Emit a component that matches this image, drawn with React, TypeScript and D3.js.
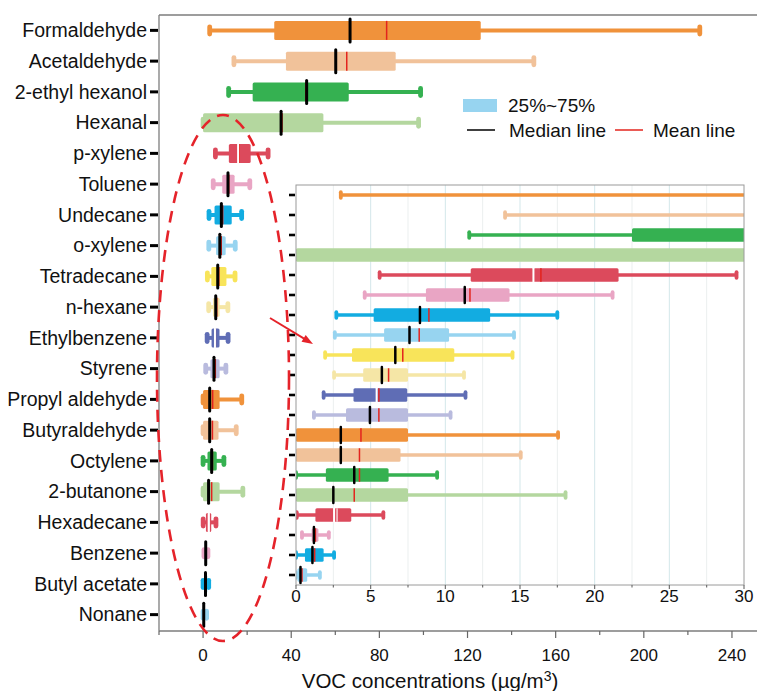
import React from "react";
import * as d3 from "d3";

// VOC box statistics (µg/m3)
const compounds = [
  "Formaldehyde", "Acetaldehyde", "2-ethyl hexanol", "Hexanal", "p-xylene",
  "Toluene", "Undecane", "o-xylene", "Tetradecane", "n-hexane",
  "Ethylbenzene", "Styrene", "Propyl aldehyde", "Butyraldehyde", "Octylene",
  "2-butanone", "Hexadecane", "Benzene", "Butyl acetate", "Nonane",
];
const minValues = [3, 14, 11.6, 0, 5.6, 4.6, 2.7, 2.6, 1.95, 2.55, 1.85, 1.2, 0, 0, 0, 0, 0.05, 0.4, 0, 0];
const q1Values = [32.3, 37.6, 22.5, 0, 11.7, 8.7, 5.2, 5.9, 3.75, 4.5, 3.85, 3.35, 0, 0, 2.0, 0, 1.3, 1.05, 0.6, 0.1];
const medianValues = [66.7, 60.2, 47.0, 35.4, 15.9, 11.3, 8.3, 7.6, 6.65, 5.75, 5.4, 4.95, 3.0, 3.0, 3.9, 2.5, 2.55, 1.2, 1.1, 0.3];
const meanValues = [83.3, 65.2, 46.6, 35.8, 16.4, 11.65, 8.9, 8.25, 7.15, 6.2, 5.55, 5.55, 4.35, 4.25, 4.25, 3.9, 2.75, 1.3, 1.25, 0.4];
const q3Values = [126, 87.4, 66.1, 54.6, 21.6, 14.3, 13.0, 10.25, 10.6, 7.5, 7.45, 7.5, 7.5, 7.0, 6.2, 7.5, 3.7, 1.5, 1.85, 0.75];
const maxValues = [225.4, 150.1, 98.7, 97.8, 29.5, 21.2, 17.5, 14.6, 14.5, 11.25, 11.35, 10.35, 17.55, 15.05, 9.45, 18.05, 5.85, 2.2, 2.55, 1.6];

const mainTicks = [0, 40, 80, 120, 160, 200, 240];
const mainMinorTicks = [-20, 20, 60, 100, 140, 180, 220];
const insetTicks = [0, 5, 10, 15, 20, 25, 30];
const insetMinorTicks = [2.5, 7.5, 12.5, 17.5, 22.5, 27.5];

const palette = [
  "#F0923B", "#F1C29A", "#35B151", "#B4D79F", "#DC4A5C",
  "#E9A5C4", "#12ACE1", "#97D4F0", "#F8E45A", "#F5E6A6",
  "#5F6DB5", "#B9BBDE", "#F0923B", "#F1C29A", "#35B151",
  "#B4D79F", "#DC4A5C", "#E9A5C4", "#12ACE1", "#97D4F0",
];
const whiteMedian = ["p-xylene", "Ethylbenzene", "Hexadecane"];

const FONT = "'Liberation Sans', Arial, Helvetica, sans-serif";
const MEAN_RED = "#E3241E";

const mainX = d3.scaleLinear().domain([-20, 250]).range([159, 754]);
const mainY = d3.scaleBand().domain(compounds).range([15, 630]);
const insetX = d3.scaleLinear().domain([0, 30]).range([296, 744]);
const insetY = d3.scaleBand().domain(compounds).range([185, 585]);

type Dims = { box: number; whisker: number; capW: number; capH: number; medW: number; medH: number };

function Boxes({ x, y, d, clip }: { x: d3.ScaleLinear<number, number>; y: d3.ScaleBand<string>; d: Dims; clip?: string }) {
  return (
    <g clipPath={clip}>
      {compounds.map((c, i) => {
        const cy = (y(c) as number) + y.bandwidth() / 2;
        const col = palette[i];
        const white = whiteMedian.includes(c);
        return (
          <g key={c}>
            <line x1={x(minValues[i])} x2={x(maxValues[i])} y1={cy} y2={cy} stroke={col} strokeWidth={d.whisker} />
            {[minValues[i], maxValues[i]].map((v, k) => (
              <rect key={k} x={x(v) - d.capW / 2} y={cy - d.capH / 2} width={d.capW} height={d.capH} rx={d.capW / 2} fill={col} />
            ))}
            <rect x={x(q1Values[i])} y={cy - d.box / 2} width={x(q3Values[i]) - x(q1Values[i])} height={d.box} rx={1.5} fill={col} />
            <line x1={x(meanValues[i])} x2={x(meanValues[i])} y1={cy - d.box / 2} y2={cy + d.box / 2}
              stroke={c === "Hexadecane" ? "#F6D0D4" : MEAN_RED} strokeWidth={1.5} />
            <line x1={x(medianValues[i])} x2={x(medianValues[i])}
              y1={cy - (white ? d.box : d.medH) / 2} y2={cy + (white ? d.box : d.medH) / 2}
              stroke={white ? "#ffffff" : "#000"} strokeWidth={white ? 2 : d.medW} strokeLinecap="round" />
          </g>
        );
      })}
    </g>
  );
}

export default function App() {
  const [ix0, ix1] = insetX.range();
  const [iy0, iy1] = insetY.range();
  // arrow pointing into the inset
  const a0 = [270, 318], a1 = [313, 344];
  const ang = Math.atan2(a1[1] - a0[1], a1[0] - a0[0]);
  const head = (len: number, w: number) => {
    const bx = a1[0] - len * Math.cos(ang), by = a1[1] - len * Math.sin(ang);
    const px = -Math.sin(ang) * w, py = Math.cos(ang) * w;
    return `${a1[0]},${a1[1]} ${bx + px},${by + py} ${bx - px},${by - py}`;
  };

  return (
    <svg width={757} height={691} style={{ position: "absolute", left: 0, top: 0, background: "#fff" }} fontFamily={FONT}>
      {/* main frame */}
      <line x1={159} x2={757} y1={15} y2={15} stroke="#7d7d7d" strokeWidth={1.3} />
      <line x1={159} x2={159} y1={15} y2={631} stroke="#7d7d7d" strokeWidth={1.3} />
      <line x1={159} x2={757} y1={631} y2={631} stroke="#7d7d7d" strokeWidth={1.3} />
      {mainTicks.map((t) => (
        <g key={t}>
          <line x1={mainX(t)} x2={mainX(t)} y1={631} y2={638} stroke="#666" strokeWidth={1.2} />
          <text x={mainX(t)} y={661} fontSize={17} textAnchor="middle" fill="#111">{t}</text>
        </g>
      ))}
      {mainMinorTicks.map((t) => (
        <line key={t} x1={mainX(t)} x2={mainX(t)} y1={631} y2={635} stroke="#666" strokeWidth={1.2} />
      ))}
      {compounds.map((c) => {
        const cy = (mainY(c) as number) + mainY.bandwidth() / 2;
        return (
          <g key={c}>
            <line x1={150} x2={158} y1={cy} y2={cy} stroke="#000" strokeWidth={3} />
            <text x={147} y={cy + 6.8} fontSize={19.5} textAnchor="end" fill="#111">{c}</text>
          </g>
        );
      })}
      <text x={430} y={688} fontSize={20.5} textAnchor="middle" fill="#111">
        VOC concentrations (µg/m<tspan dy={-7} fontSize={14}>3</tspan><tspan dy={7}>)</tspan>
      </text>

      <Boxes x={mainX} y={mainY} d={{ box: 19, whisker: 4, capW: 4.8, capH: 12, medW: 3, medH: 23 }} />

      {/* legend */}
      <rect x={463} y={99} width={34} height={13} fill="#97D4F0" />
      <text x={508} y={112} fontSize={19} fill="#111">25%~75%</text>
      <line x1={467} x2={495} y1={130} y2={130} stroke="#000" strokeWidth={1.5} />
      <text x={509} y={136.5} fontSize={19} fill="#111">Median line</text>
      <line x1={615} x2={643} y1={130} y2={130} stroke={MEAN_RED} strokeWidth={1.5} />
      <text x={653} y={136.5} fontSize={19} fill="#111">Mean line</text>

      {/* inset zoom 0-30 */}
      <defs>
        <clipPath id="insetClip">
          <rect x={ix0} y={iy0} width={ix1 - ix0} height={iy1 - iy0} />
        </clipPath>
      </defs>
      <rect x={ix0} y={iy0} width={ix1 - ix0} height={iy1 - iy0} fill="#fff" />
      {insetMinorTicks.map((t) => (
        <line key={t} x1={insetX(t)} x2={insetX(t)} y1={iy0} y2={iy1} stroke="#ebefef" strokeWidth={1} />
      ))}
      {insetTicks.slice(1, -1).map((t) => (
        <line key={t} x1={insetX(t)} x2={insetX(t)} y1={iy0} y2={iy1} stroke="#d3e7ea" strokeWidth={1} />
      ))}
      <Boxes x={insetX} y={insetY} d={{ box: 13.5, whisker: 3.5, capW: 3.8, capH: 9.5, medW: 2.5, medH: 16 }} clip="url(#insetClip)" />
      <rect x={ix0} y={iy0} width={ix1 - ix0} height={iy1 - iy0} fill="none" stroke="#9a9a9a" strokeWidth={1} />
      {compounds.map((c) => {
        const cy = (insetY(c) as number) + insetY.bandwidth() / 2;
        return <line key={c} x1={289} x2={295} y1={cy} y2={cy} stroke="#000" strokeWidth={2.6} />;
      })}
      {insetTicks.map((t) => (
        <g key={t}>
          <line x1={insetX(t)} x2={insetX(t)} y1={iy1} y2={iy1 + 4} stroke="#666" strokeWidth={1.1} />
          <text x={insetX(t)} y={601.5} fontSize={17} textAnchor="middle" fill="#111">{t}</text>
        </g>
      ))}
      {insetMinorTicks.map((t) => (
        <line key={t} x1={insetX(t)} x2={insetX(t)} y1={iy1} y2={iy1 + 2.5} stroke="#666" strokeWidth={1.1} />
      ))}

      {/* dashed highlight ellipse and arrow */}
      <ellipse cx={223} cy={378} rx={66} ry={263} fill="none" stroke="#E5232A" strokeWidth={2.6} strokeDasharray="12 8" />
      <line x1={a0[0]} y1={a0[1]} x2={a1[0] - 8 * Math.cos(ang)} y2={a1[1] - 8 * Math.sin(ang)} stroke="#E5232A" strokeWidth={2} />
      <polygon points={head(11, 4)} fill="#E5232A" />
    </svg>
  );
}
